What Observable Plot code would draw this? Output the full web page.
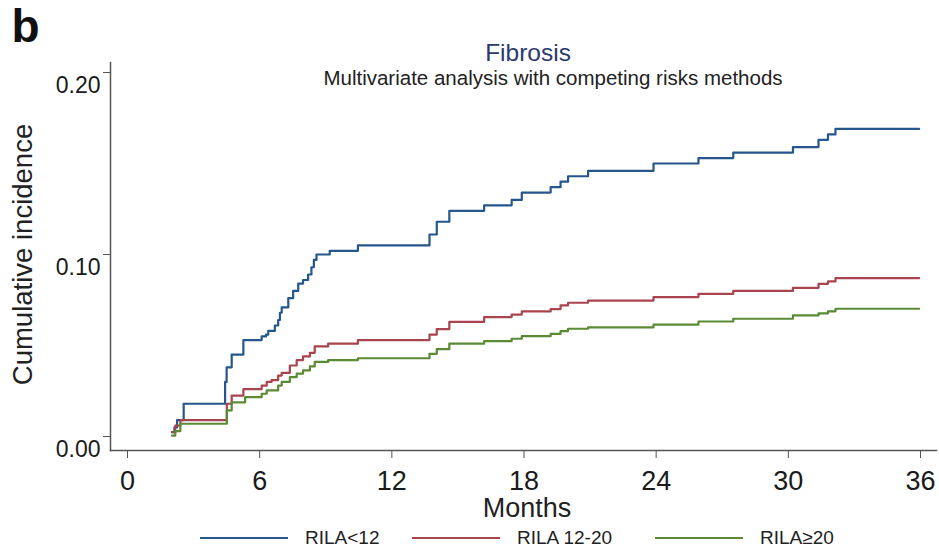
<!DOCTYPE html>
<html><head><meta charset="utf-8">
<script src="https://cdn.jsdelivr.net/npm/d3@7"></script>
<script src="https://cdn.jsdelivr.net/npm/@observablehq/plot@0.6"></script>
<style>
body{margin:0;background:#fff;font-family:"Liberation Sans",Arial,sans-serif;}
#wrap{position:relative;width:939px;height:551px;overflow:hidden;}
.leg{position:absolute;top:527px;height:22px;display:flex;align-items:center;font-size:19px;color:#222;white-space:nowrap;}
.leg .sw{display:inline-block;width:88px;height:0;border-top:2px solid;margin-right:17px;}
</style></head><body><div id="wrap"></div>
<script>
// ---- data ----
const seriesNames = ["RILA<12", "RILA 12-20", "RILA≥20"];
const seriesColors = ["#25568c", "#a9434d", "#5a8a34"];

const blueMonths = [2.02,2.13,2.25,2.55,4.43,4.50,4.73,5.26,6.09,6.29,6.39,6.69,6.84,6.92,7.00,7.30,7.52,7.75,7.97,8.20,8.35,8.46,8.58,9.18,10.46,13.71,14.04,14.61,16.19,17.44,17.90,19.21,19.66,20.00,20.91,23.88,25.92,27.50,30.21,31.37,31.80,32.14,35.94];
const blueValues = [0.0024,0.005,0.009,0.018,0.030,0.038,0.045,0.053,0.055,0.056,0.058,0.061,0.064,0.068,0.071,0.076,0.080,0.084,0.086,0.089,0.093,0.097,0.100,0.102,0.105,0.111,0.118,0.124,0.127,0.130,0.134,0.137,0.140,0.143,0.146,0.150,0.153,0.156,0.159,0.163,0.166,0.169,0.169];

const redMonths = [2.02,2.17,2.40,4.51,4.73,5.26,6.09,6.32,6.54,6.84,7.00,7.37,7.68,7.97,8.28,8.50,9.11,10.46,13.71,14.04,14.61,16.19,17.44,17.90,19.21,19.66,20.00,20.91,23.88,25.92,27.50,30.21,31.37,31.80,32.14,35.94];
const redValues = [0.0024,0.006,0.009,0.018,0.0225,0.026,0.028,0.030,0.031,0.0335,0.035,0.039,0.042,0.044,0.046,0.0495,0.051,0.053,0.056,0.059,0.063,0.0656,0.067,0.0687,0.070,0.072,0.0735,0.0747,0.0766,0.0784,0.080,0.0817,0.0839,0.0852,0.087,0.087];

const greenMonths = [2.02,2.17,2.40,4.51,4.73,5.34,6.09,6.32,6.84,7.00,7.37,7.68,7.97,8.28,8.50,9.11,10.46,13.71,14.04,14.61,16.19,17.44,17.90,19.21,19.66,20.00,20.91,23.88,25.92,27.50,30.21,31.37,31.80,32.14,35.94];
const greenValues = [0.0005,0.003,0.007,0.0143,0.0188,0.0216,0.0235,0.0253,0.028,0.030,0.0326,0.0345,0.0363,0.0385,0.041,0.042,0.043,0.0454,0.048,0.051,0.0524,0.0537,0.0551,0.0564,0.0579,0.0592,0.060,0.0615,0.0632,0.0647,0.0665,0.0677,0.0688,0.0702,0.0702];

const xTicks = [0, 6, 12, 18, 24, 30, 36];
const xTickLabels = ["0", "6", "12", "18", "24", "30", "36"];
const yTicks = [0, 0.1, 0.2];
const yTickLabels = ["0.00", "0.10", "0.20"];

const panelLetter = "b";
const titleText = "Fibrosis";
const subtitleText = "Multivariate analysis with competing risks methods";
const xLabel = "Months";
const yLabel = "Cumulative incidence";

// ---- build table ----
const seriesMonths = [blueMonths, redMonths, greenMonths];
const seriesValues = [blueValues, redValues, greenValues];
const rows = [];
seriesNames.forEach((name, s) => {
  seriesMonths[s].forEach((m, i) => rows.push({series: name, month: m, value: seriesValues[s][i]}));
});

const font = "'Liberation Sans', Arial, sans-serif";
const axisColor = "#555";

const plot = Plot.plot({
  width: 939, height: 551,
  marginLeft: 127, marginRight: 19, marginTop: 72, marginBottom: 115,
  style: {fontFamily: font, background: "white", color: "#1a1a1a"},
  x: {domain: [0, 36]},
  y: {domain: [0, 0.2]},
  color: {domain: seriesNames, range: seriesColors},
  marks: [
    Plot.frame({anchor: "left", insetLeft: -17, insetTop: -10, insetBottom: -14, stroke: axisColor, strokeWidth: 1.5}),
    Plot.frame({anchor: "bottom", insetBottom: -14, insetLeft: -17, insetRight: -16, stroke: axisColor, strokeWidth: 1.5}),
    Plot.axisY({ticks: yTicks, tickSize: 7, dx: -17, tickFormat: () => "", label: null, stroke: axisColor}),
    Plot.axisY({ticks: yTicks, tickSize: 0, tickPadding: 10, dx: -17, dy: 13, fontSize: 23, label: null,
      tickFormat: d => yTickLabels[yTicks.indexOf(d)]}),
    Plot.axisX({ticks: xTicks, tickSize: 8, dy: 14, tickFormat: () => "", label: null, stroke: axisColor}),
    Plot.axisX({ticks: xTicks, tickSize: 0, tickPadding: 34, fontSize: 27, label: null,
      tickFormat: d => xTickLabels[xTicks.indexOf(d)]}),
    Plot.line(rows, {x: "month", y: "value", z: "series", stroke: "series", curve: "step-after", strokeWidth: 2.2}),
    Plot.text([panelLetter], {frameAnchor: "top-left", dx: -116, dy: -45, fontSize: 46, fontWeight: "bold", textAnchor: "start", lineAnchor: "middle", fill: "#111"}),
    Plot.text([titleText], {frameAnchor: "top", dx: 4, dy: -19, fontSize: 24.5, textAnchor: "middle", lineAnchor: "middle", fill: "#2b3a6b"}),
    Plot.text([subtitleText], {frameAnchor: "top", dx: 29, dy: 6, fontSize: 20.5, textAnchor: "middle", lineAnchor: "middle", fill: "#222"}),
    Plot.text([yLabel], {frameAnchor: "left", dx: -104, rotate: -90, fontSize: 27.5, textAnchor: "middle", lineAnchor: "middle", fill: "#222"}),
    Plot.text([xLabel], {frameAnchor: "bottom", dx: 3, dy: 72, fontSize: 27, textAnchor: "middle", lineAnchor: "middle", fill: "#222"})
  ]
});

const wrap = document.getElementById("wrap");
wrap.appendChild(plot);

const legendLefts = [200, 412, 655];
seriesNames.forEach((name, i) => {
  const d = document.createElement("div");
  d.className = "leg";
  d.style.left = legendLefts[i] + "px";
  const sw = document.createElement("span");
  sw.className = "sw";
  sw.style.borderTopColor = seriesColors[i];
  d.appendChild(sw);
  const t = document.createElement("span");
  t.textContent = name;
  d.appendChild(t);
  wrap.appendChild(d);
});
</script></body></html>
